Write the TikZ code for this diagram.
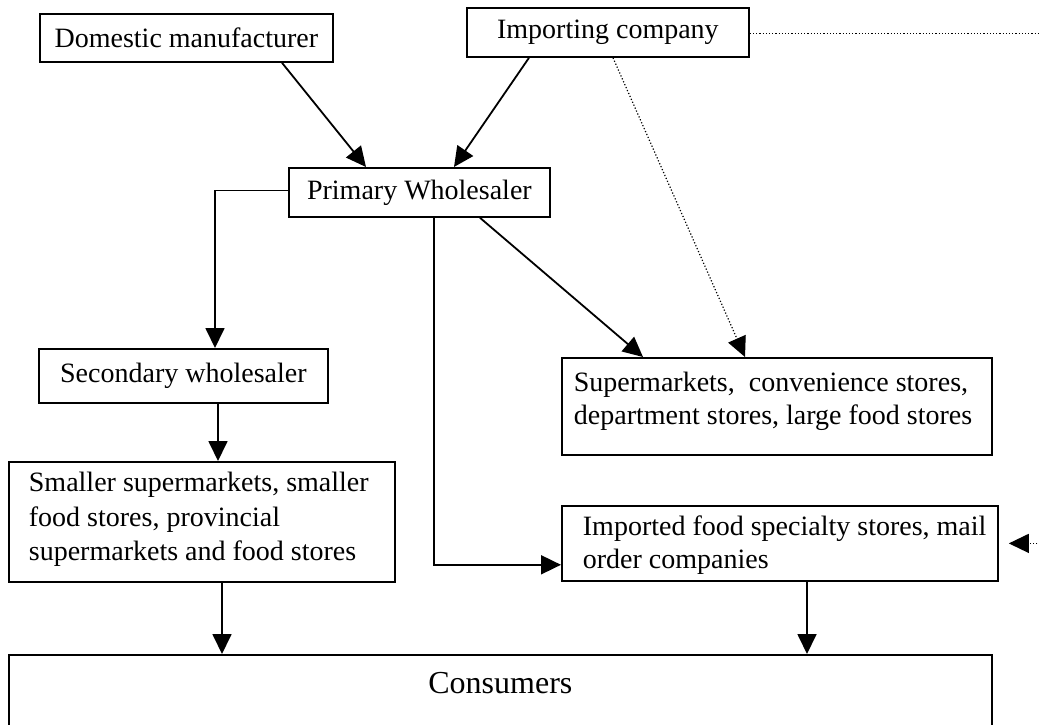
\documentclass[tikz,border=0pt]{standalone}
\usepackage{fontspec}
\setmainfont{Liberation Serif}
\usetikzlibrary{arrows.meta,calc}
\newcommand\bxt[6]{\parbox[t][#2][t]{#1}{\raggedright\setlength\leftskip{#3}\setlength\parindent{0pt}\setlength\baselineskip{#5}\rule{0pt}{#4}#6}}
\tikzset{
  onebox/.style={draw, line width=1.8pt, inner sep=0pt, anchor=north west},
  arr/.style={line width=1.8pt, -{Triangle[length=20pt,width=19pt]}},
  dotarr/.style={line width=1.2pt, dash pattern=on 1.2pt off 2pt, -{Triangle[length=20pt,width=19pt]}}
}
\begin{document}
\begin{tikzpicture}[x=1pt,y=-1pt,font=\fontsize{28}{34}\selectfont]
\clip (0,0) rectangle (1039,725);
\fill[white] (0,0) rectangle (1039,725);

\node[onebox, minimum width=293pt, minimum height=48pt] (dm) at (39,13) {Domestic manufacturer};
\node[onebox, minimum width=282pt, minimum height=49pt] (ic) at (466,7) {Importing company};
\node[onebox, minimum width=261pt, minimum height=49pt] (pw) at (288,167) {Primary Wholesaler};
\node[onebox, minimum width=289pt, minimum height=54pt] (sw) at (38,348) {Secondary wholesaler};
\node[onebox] (sa) at (8,461) {\bxt{386pt}{120pt}{20pt}{30pt}{34.5pt}{Smaller supermarkets, smaller\\food stores, provincial\\supermarkets and food stores}};
\node[onebox] (sm) at (561,357) {\bxt{430pt}{97pt}{12pt}{34pt}{32.5pt}{Supermarkets,~ convenience stores,\\department stores, large food stores}};
\node[onebox] (im) at (561,505) {\bxt{436pt}{75pt}{21pt}{30pt}{33pt}{Imported food specialty stores, mail\\order companies}};
\node[onebox] (cs) at (8,654) {\bxt{983pt}{110pt}{0pt}{39pt}{34pt}{\centering\fontsize{32}{36}\selectfont Consumers}};

\draw[arr] ([xshift=243pt]dm.south west) -- ([xshift=78pt]pw.north west);
\draw[arr] ([xshift=63pt]ic.south west) -- ([xshift=166pt]pw.north west);
\draw[dotarr] ([xshift=147pt]ic.south west) -- ([xshift=184pt]sm.north west);
\draw[arr] ([yshift=2pt]pw.west) -| ([xshift=177pt]sw.north west);
\draw[arr] ([xshift=180pt]sw.south west) -- ([xshift=180pt]sw.south west |- sa.north);
\draw[arr] ([xshift=192pt]pw.south west) -- ([xshift=82pt]sm.north west);
\draw[arr] ([xshift=146pt]pw.south west) |- ([yshift=17pt]im.south west);
\draw[arr] ([xshift=214pt]sa.south west) -- ([xshift=214pt]sa.south west |- cs.north);
\draw[arr] ([xshift=246pt]im.south west) -- ([xshift=246pt]im.south west |- cs.north);
\draw[dotarr] ([yshift=-1pt]ic.east) -- ++(300,0) |- ([xshift=10pt]im.east);
\end{tikzpicture}
\end{document}
